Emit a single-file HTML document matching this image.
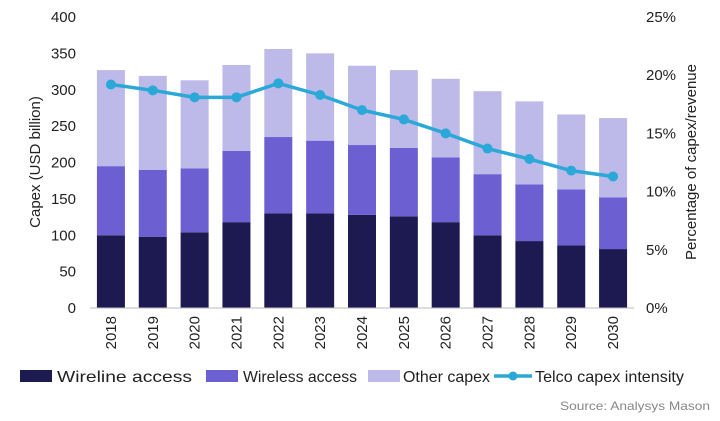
<!DOCTYPE html>
<html><head><meta charset="utf-8"><style>
body{margin:0;background:#fff;width:720px;height:416px;overflow:hidden;font-family:"Liberation Sans",sans-serif}
text{font-family:"Liberation Sans",sans-serif}
</style></head><body>
<svg id="c" width="720" height="416"></svg>
<script>
const years=["2018","2019","2020","2021","2022","2023","2024","2025","2026","2027","2028","2029","2030"];
const wireline=[100,98,104,118,130,130,128,126,118,100,92,86,81];
const wireless=[95,92,88,98,105,100,96,94,89,84,78,77,71];
const other=[132,129,121,118,121,120,109,107,108,114,114,103,109];
const intensity=[19.2,18.7,18.1,18.1,19.3,18.3,17.0,16.2,15.0,13.7,12.8,11.8,11.3];
const leftTicks=[0,50,100,150,200,250,300,350,400];
const rightTicks=["0%","5%","10%","15%","20%","25%"];
const NS="http://www.w3.org/2000/svg";
const svg=document.getElementById('c');
const y0=308,yTop=17,x0=90,x1=634;
const yL=v=>y0-(y0-yTop)*v/400;
const yR=v=>y0-(y0-yTop)*v/25;
const step=(x1-x0)/years.length;
const xC=i=>x0+step*(i+0.5);
const bw=28;
function mk(t,a){const e=document.createElementNS(NS,t);for(const k in a)e.setAttribute(k,a[k]);svg.appendChild(e);return e;}
leftTicks.forEach(v=>{const t=mk('text',{x:76,y:yL(v)+5,'text-anchor':'end','font-size':15,fill:'#222'});t.textContent=v;

});
rightTicks.forEach((s,i)=>{const t=mk('text',{x:646,y:yR(i*5)+5,'font-size':15,fill:'#222'});t.textContent=s;

});
years.forEach((yr,i)=>{
 const x=xC(i)-bw/2;
 const segs=[[0,wireline[i],'#1c1a50','bar-wireline'],[wireline[i],wireline[i]+wireless[i],'#6b5fd1','bar-wireless'],[wireline[i]+wireless[i],wireline[i]+wireless[i]+other[i],'#bdb9e8','bar-other']];
 segs.forEach(s=>{const r=mk('rect',{x:x,y:yL(s[1]),width:bw,height:yL(s[0])-yL(s[1]),fill:s[2]});
 
 });
 const t=mk('text',{x:0,y:0,'font-size':15,fill:'#222','text-anchor':'end',transform:`translate(${xC(i)+5},316) rotate(-90)`});t.textContent=yr;
 
 
});
const ax=mk('line',{x1:x0,x2:x1,y1:y0,y2:y0,stroke:'#bbb','stroke-width':1});


const pl=mk('polyline',{points:intensity.map((v,i)=>xC(i)+','+yR(v)).join(' '),fill:'none',stroke:'#2aa8d8','stroke-width':3.5});


intensity.forEach((v,i)=>{const c=mk('circle',{cx:xC(i),cy:yR(v),r:5,fill:'#2aa8d8'});

});
let t=mk('text',{x:0,y:0,'font-size':15,fill:'#222','text-anchor':'middle',transform:'translate(40,162) rotate(-90)'});t.textContent='Capex (USD billion)';


t=mk('text',{x:0,y:0,'font-size':15,fill:'#222','text-anchor':'middle',transform:'translate(696,162) rotate(-90)'});t.textContent='Percentage of capex/revenue';


const leg=[['rect',20,32,'#1c1a50','Wireline access',57,135],['rect',206,32,'#6b5fd1','Wireless access',243,114],['rect',368,32,'#bdb9e8','Other capex',403,87],['line',494,38,'#2aa8d8','Telco capex intensity',535,149]];
leg.forEach(l=>{
 let m;
 if(l[0]==='rect'){m=mk('rect',{x:l[1],y:370,width:l[2],height:12,fill:l[3]});}
 else{m=mk('line',{x1:l[1],x2:l[1]+l[2],y1:376,y2:376,stroke:l[3],'stroke-width':3.5});mk('circle',{cx:l[1]+l[2]/2,cy:376,r:4.5,fill:l[3]});}
 
 
 const tt=mk('text',{x:l[5],y:382,'font-size':16,fill:'#222',textLength:l[6],lengthAdjust:'spacingAndGlyphs'});tt.textContent=l[4];
 
 
});
t=mk('text',{x:560,y:410,'font-size':12,fill:'#888',textLength:150,lengthAdjust:'spacingAndGlyphs'});t.textContent='Source: Analysys Mason';


</script>
</body></html>
